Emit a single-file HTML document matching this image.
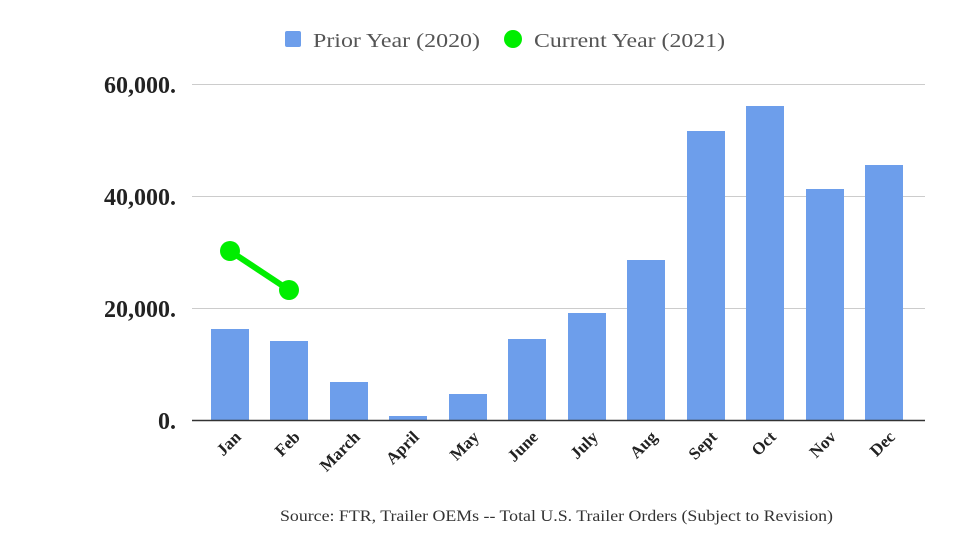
<!DOCTYPE html>
<html><head><meta charset="utf-8"><style>
body{margin:0;background:#fff;}
svg{display:block;}
</style></head><body>
<svg width="980" height="552" xmlns="http://www.w3.org/2000/svg" font-family="Liberation Serif, serif">
<rect width="980" height="552" fill="#fff"/>
<g stroke="#cccccc" stroke-width="1">
<line x1="192" x2="925" y1="84.5" y2="84.5"/>
<line x1="192" x2="925" y1="196.5" y2="196.5"/>
<line x1="192" x2="925" y1="308.5" y2="308.5"/>
</g>
<g fill="#6d9eeb">
<rect x="211" y="329" width="38" height="91"/>
<rect x="270" y="341" width="38" height="79"/>
<rect x="330" y="382" width="38" height="38"/>
<rect x="389" y="416" width="38" height="4"/>
<rect x="449" y="394" width="38" height="26"/>
<rect x="508" y="339" width="38" height="81"/>
<rect x="568" y="313" width="38" height="107"/>
<rect x="627" y="260" width="38" height="160"/>
<rect x="687" y="131" width="38" height="289"/>
<rect x="746" y="106" width="38" height="314"/>
<rect x="806" y="189" width="38" height="231"/>
<rect x="865" y="165" width="38" height="255"/>
</g>
<line x1="192" x2="925" y1="420.5" y2="420.5" stroke="#333" stroke-width="1.5"/>
<line x1="230" y1="251" x2="289" y2="290" stroke="#00ee00" stroke-width="6"/>
<circle cx="230" cy="251" r="10" fill="#00ee00"/>
<circle cx="289" cy="290" r="10" fill="#00ee00"/>
<g font-weight="bold" font-size="24" fill="#222" text-anchor="end">
<text x="176" y="93">60,000.</text>
<text x="176" y="205">40,000.</text>
<text x="176" y="317">20,000.</text>
<text x="176" y="429">0.</text>
</g>
<g font-weight="bold" font-size="17" fill="#222" text-anchor="end">
<text transform="translate(242,438) rotate(-45)">Jan</text>
<text transform="translate(301,438) rotate(-45)">Feb</text>
<text transform="translate(361,438) rotate(-45)">March</text>
<text transform="translate(420,438) rotate(-45)">April</text>
<text transform="translate(480,438) rotate(-45)">May</text>
<text transform="translate(539,438) rotate(-45)">June</text>
<text transform="translate(599,438) rotate(-45)">July</text>
<text transform="translate(658,438) rotate(-45)">Aug</text>
<text transform="translate(718,438) rotate(-45)">Sept</text>
<text transform="translate(777,438) rotate(-45)">Oct</text>
<text transform="translate(837,438) rotate(-45)">Nov</text>
<text transform="translate(896,438) rotate(-45)">Dec</text>
</g>
<rect x="285" y="31" width="16" height="16" rx="2" fill="#6d9eeb"/>
<text x="313" y="47" font-size="20" fill="#555" textLength="167" lengthAdjust="spacingAndGlyphs">Prior Year (2020)</text>
<circle cx="513" cy="39" r="9" fill="#00ee00"/>
<text x="534" y="47" font-size="20" fill="#555" textLength="191" lengthAdjust="spacingAndGlyphs">Current Year (2021)</text>
<text x="280" y="521" font-size="16" fill="#333" textLength="553" lengthAdjust="spacingAndGlyphs">Source: FTR, Trailer OEMs -- Total U.S. Trailer Orders (Subject to Revision)</text>
</svg>
</body></html>
